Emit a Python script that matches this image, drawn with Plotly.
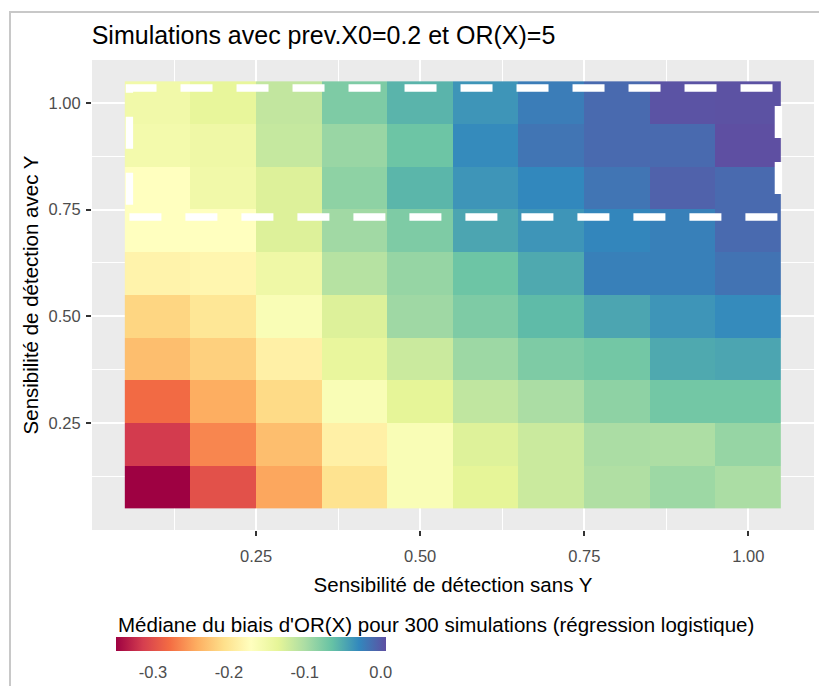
import plotly.graph_objects as go

# Sensitivities (axis categories)
sens_sans_y = [0.1, 0.2, 0.3, 0.4, 0.5, 0.6, 0.7, 0.8, 0.9, 1.0]
sens_avec_y = [0.1, 0.2, 0.3, 0.4, 0.5, 0.6, 0.7, 0.8, 0.9, 1.0]

# Median bias of OR(X), one list per row (sensibilite avec Y)
bias_y010 = [-0.349, -0.299, -0.246, -0.203, -0.163, -0.136, -0.119, -0.103, -0.093, -0.100]
bias_y020 = [-0.315, -0.264, -0.231, -0.188, -0.163, -0.131, -0.119, -0.100, -0.101, -0.089]
bias_y030 = [-0.280, -0.242, -0.210, -0.163, -0.136, -0.113, -0.100, -0.085, -0.071, -0.071]
bias_y040 = [-0.231, -0.218, -0.188, -0.140, -0.119, -0.093, -0.077, -0.071, -0.049, -0.047]
bias_y050 = [-0.214, -0.199, -0.163, -0.130, -0.094, -0.077, -0.060, -0.047, -0.037, -0.031]
bias_y060 = [-0.185, -0.182, -0.148, -0.107, -0.089, -0.068, -0.049, -0.024, -0.024, -0.016]
bias_y070 = [-0.171, -0.171, -0.130, -0.095, -0.077, -0.047, -0.037, -0.028, -0.024, -0.010]
bias_y080 = [-0.171, -0.151, -0.130, -0.085, -0.057, -0.037, -0.029, -0.017, -0.005, -0.010]
bias_y090 = [-0.154, -0.148, -0.116, -0.091, -0.068, -0.031, -0.017, -0.010, -0.010, 0.0066]
bias_y100 = [-0.151, -0.138, -0.114, -0.077, -0.056, -0.037, -0.022, -0.010, 0.004, 0.005]

z_rows = [bias_y010, bias_y020, bias_y030, bias_y040, bias_y050,
          bias_y060, bias_y070, bias_y080, bias_y090, bias_y100]

# Highlight rectangle (data coordinates)
rect_x = [0.057, 1.0458]
rect_y = [0.7325, 1.0346]

axis_ticks = [0.25, 0.50, 0.75, 1.00]
axis_ticktext = ["0.25", "0.50", "0.75", "1.00"]
minor_ticks = [0.125, 0.375, 0.625, 0.875]
cbar_ticks = [-0.3, -0.2, -0.1, 0.0]
cbar_ticktext = ["-0.3", "-0.2", "-0.1", "0.0"]
z_min, z_max = -0.349, 0.0066

spectral = ["#9E0142", "#D53E4F", "#F46D43", "#FDAE61", "#FEE08B", "#FFFFBF",
            "#E6F598", "#ABDDA4", "#66C2A5", "#3288BD", "#5E4FA2"]
colorscale = [[i / 10, c] for i, c in enumerate(spectral)]

FONT = "Liberation Sans, Arial, sans-serif"
W, H = 819, 686
ML, MR, MT, MB = 92, 5, 60, 156
CB_LEFT, CB_LEN, CB_TOP, CB_THICK = 117.3, 270.4, 637.3, 14
CB_XSHIFT = 14  # plotly places the horizontal bar this much left of its anchor

fig = go.Figure()
fig.add_trace(go.Heatmap(
    x=sens_sans_y, y=sens_avec_y, z=z_rows,
    colorscale=colorscale, zmin=z_min, zmax=z_max,
    hoverinfo="skip",
    colorbar=dict(
        orientation="h",
        xref="container", yref="container",
        x=(CB_LEFT + CB_XSHIFT) / W, xanchor="left",
        y=1 - CB_TOP / H, yanchor="top",
        xpad=0, ypad=0,
        lenmode="pixels", len=CB_LEN,
        thickness=CB_THICK,
        outlinewidth=0,
        tickvals=cbar_ticks, ticktext=cbar_ticktext,
        ticks="outside", ticklen=8, tickcolor="rgba(0,0,0,0)", tickwidth=1,
        tickfont=dict(family=FONT, size=16.5, color="#4D4D4D"),
    ),
))

fig.add_shape(
    type="path", xref="x", yref="y",
    path=f"M {rect_x[0]},{rect_y[0]} L {rect_x[1]},{rect_y[0]} L {rect_x[1]},{rect_y[1]} L {rect_x[0]},{rect_y[1]} Z",
    line=dict(color="white", width=7.4, dash="32px,24px"),
    layer="above",
)

# pixel -> paper helpers
pw, ph = W - ML - MR, H - MT - MB
def px_x(p): return (p - ML) / pw
def px_y(p): return (H - MB - p) / ph

# white tick marks inside the colour bar (top and bottom edges)
for v in cbar_ticks:
    cx = CB_LEFT + (v - z_min) / (z_max - z_min) * CB_LEN
    for y0p, y1p in [(CB_TOP, CB_TOP + 3), (CB_TOP + CB_THICK - 3, CB_TOP + CB_THICK)]:
        fig.add_shape(type="line", xref="paper", yref="paper",
                      x0=px_x(cx), x1=px_x(cx), y0=px_y(y0p), y1=px_y(y1p),
                      line=dict(color="white", width=1.5))

# frame of the screenshot (grey border top and left)
fig.add_shape(type="line", xref="paper", yref="paper",
              x0=px_x(9), x1=px_x(W + 5), y0=px_y(12), y1=px_y(12),
              line=dict(color="#C8C8C8", width=2))
fig.add_shape(type="line", xref="paper", yref="paper",
              x0=px_x(10), x1=px_x(10), y0=px_y(11), y1=px_y(H + 5),
              line=dict(color="#C8C8C8", width=2))

# colour bar title
fig.add_annotation(
    text="Médiane du biais d'OR(X) pour 300 simulations (régression logistique)",
    xref="paper", yref="paper", x=px_x(CB_LEFT - 1), y=px_y(624),
    xanchor="left", yanchor="middle", showarrow=False,
    font=dict(family=FONT, size=20.5, color="black"),
)

common_axis = dict(
    range=[0, 1.1], tickvals=axis_ticks, ticktext=axis_ticktext,
    showgrid=True, gridcolor="white", gridwidth=2, zeroline=False,
    ticks="outside", ticklen=5, tickwidth=1.5, tickcolor="#333333",
    tickfont=dict(family=FONT, size=16.5, color="#4D4D4D"),
    showline=False,
    minor=dict(tickvals=minor_ticks, showgrid=True, gridcolor="white", gridwidth=1, ticks=""),
)

fig.update_layout(
    width=W, height=H,
    margin=dict(l=ML, r=MR, t=MT, b=MB, pad=0),
    paper_bgcolor="white", plot_bgcolor="#EBEBEB",
    font=dict(family=FONT),
    title=dict(text="Simulations avec prev.X0=0.2 et OR(X)=5",
               xref="container", yref="container",
               x=91.7 / W, xanchor="left", y=1 - 35 / H, yanchor="middle",
               font=dict(family=FONT, size=25, color="black")),
    xaxis=dict(**common_axis, ticklabelstandoff=6,
               title=dict(text="Sensibilité de détection sans Y", standoff=13,
                          font=dict(family=FONT, size=20.5, color="black"))),
    yaxis=dict(**common_axis, ticklabelstandoff=2,
               title=dict(text="Sensibilité de détection avec Y", standoff=4,
                          font=dict(family=FONT, size=20.5, color="black"))),
)

fig.write_html("out.html")
